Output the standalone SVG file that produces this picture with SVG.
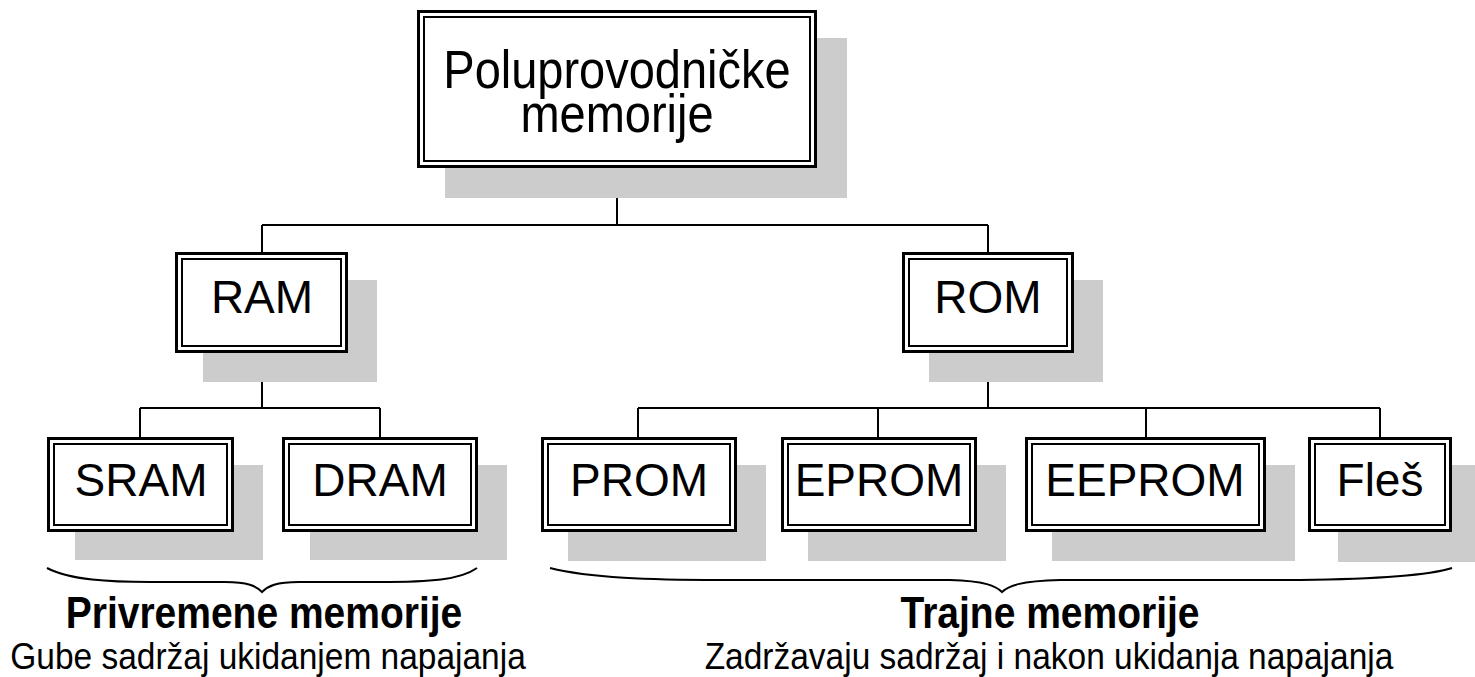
<svg xmlns="http://www.w3.org/2000/svg" width="1475" height="677" viewBox="0 0 1475 677">
<style>
.sh{fill:#cccccc}
.o{fill:#ffffff;stroke:#000;stroke-width:3}
.i{fill:none;stroke:#000;stroke-width:2}
.t{font-family:"Liberation Sans",Arial,sans-serif;font-size:46px;text-anchor:middle;fill:#000}
.tt{font-family:"Liberation Sans",Arial,sans-serif;font-size:47px;text-anchor:middle;fill:#000}
.c{fill:none;stroke:#000;stroke-width:2}
.b{fill:none;stroke:#000;stroke-width:2}
.h{font-family:"Liberation Sans",Arial,sans-serif;font-size:39px;font-weight:bold;text-anchor:middle;fill:#000}
.s{font-family:"Liberation Sans",Arial,sans-serif;font-size:33.5px;text-anchor:middle;fill:#000}
</style>
<rect width="1475" height="677" fill="#ffffff"/>
<g id="connectors">
<path class="c" d="M617,168V225M262,225H988M262,225V252M988,225V252"/>
<path class="c" d="M262,353V408M140,408H380M140,408V437M380,408V437"/>
<path class="c" d="M988,353V408M638,408H1380M638,408V437M878,408V437M1146,408V437M1380,408V437"/>
</g>
<g id="n-top">
<rect class="sh" x="445" y="38" width="402" height="160"/>
<rect class="o" x="418.5" y="11.5" width="397" height="155"/>
<rect class="i" x="424" y="17" width="386" height="144"/>
<text class="tt" transform="translate(617,88) scale(1,1.16)">Poluprovodničke</text>
<text class="tt" transform="translate(617,132) scale(1,1.16)">memorije</text>
</g>
<g id="n-ram">
<rect class="sh" x="203" y="280" width="174" height="102"/>
<rect class="o" x="176.5" y="253.5" width="170" height="98"/>
<rect class="i" x="182" y="259" width="159" height="87"/>
<text class="t" x="262" y="313">RAM</text>
</g>
<g id="n-rom">
<rect class="sh" x="929" y="280" width="174" height="102"/>
<rect class="o" x="903.5" y="253.5" width="169" height="98"/>
<rect class="i" x="909" y="259" width="158" height="87"/>
<text class="t" x="988" y="313">ROM</text>
</g>
<g id="n-sram">
<rect class="sh" x="75" y="465" width="188" height="95"/>
<rect class="o" x="48.5" y="438.5" width="184" height="92"/>
<rect class="i" x="54" y="444" width="173" height="81"/>
<text class="t" x="141" y="496">SRAM</text>
</g>
<g id="n-dram">
<rect class="sh" x="310" y="465" width="197" height="95"/>
<rect class="o" x="283.5" y="438.5" width="193" height="92"/>
<rect class="i" x="289" y="444" width="182" height="81"/>
<text class="t" x="380" y="496">DRAM</text>
</g>
<g id="n-prom">
<rect class="sh" x="568" y="465" width="198" height="96"/>
<rect class="o" x="542.5" y="438.5" width="193" height="92"/>
<rect class="i" x="548" y="444" width="182" height="81"/>
<text class="t" x="639" y="496">PROM</text>
</g>
<g id="n-eprom">
<rect class="sh" x="808" y="465" width="198" height="96"/>
<rect class="o" x="782.5" y="438.5" width="193" height="92"/>
<rect class="i" x="788" y="444" width="182" height="81"/>
<text class="t" x="879" y="496">EPROM</text>
</g>
<g id="n-eeprom">
<rect class="sh" x="1052" y="465" width="243" height="96"/>
<rect class="o" x="1026.5" y="438.5" width="238" height="92"/>
<rect class="i" x="1032" y="444" width="227" height="81"/>
<text class="t" x="1145" y="496">EEPROM</text>
</g>
<g id="n-fles">
<rect class="sh" x="1338" y="465" width="145" height="97"/>
<rect class="o" x="1309.5" y="438.5" width="141" height="92"/>
<rect class="i" x="1315" y="444" width="130" height="81"/>
<text class="t" x="1380" y="496">Fleš</text>
</g>
<g id="braces">
<path class="b" d="M47,568 C70,580 110,582 150,582 L225,582 C248,582 256,586 262,592 C268,586 276,582 299,582 L380,582 C430,582 460,580 477,568"/>
<path class="b" d="M550,568 C590,578 650,580 720,580 L950,580 C985,581 996,586 1002,592 C1008,586 1020,581 1060,580 L1300,580 C1380,579 1430,575 1452,568"/>
</g>
<g id="labels">
<text class="h" transform="translate(264,628) scale(1,1.16)">Privremene memorije</text>
<text class="s" transform="translate(268,669) scale(1,1.12)">Gube sadržaj ukidanjem napajanja</text>
<text class="h" transform="translate(1050,628) scale(1,1.16)">Trajne memorije</text>
<text class="s" transform="translate(1049,669) scale(1,1.12)">Zadržavaju sadržaj i nakon ukidanja napajanja</text>
</g>
</svg>
